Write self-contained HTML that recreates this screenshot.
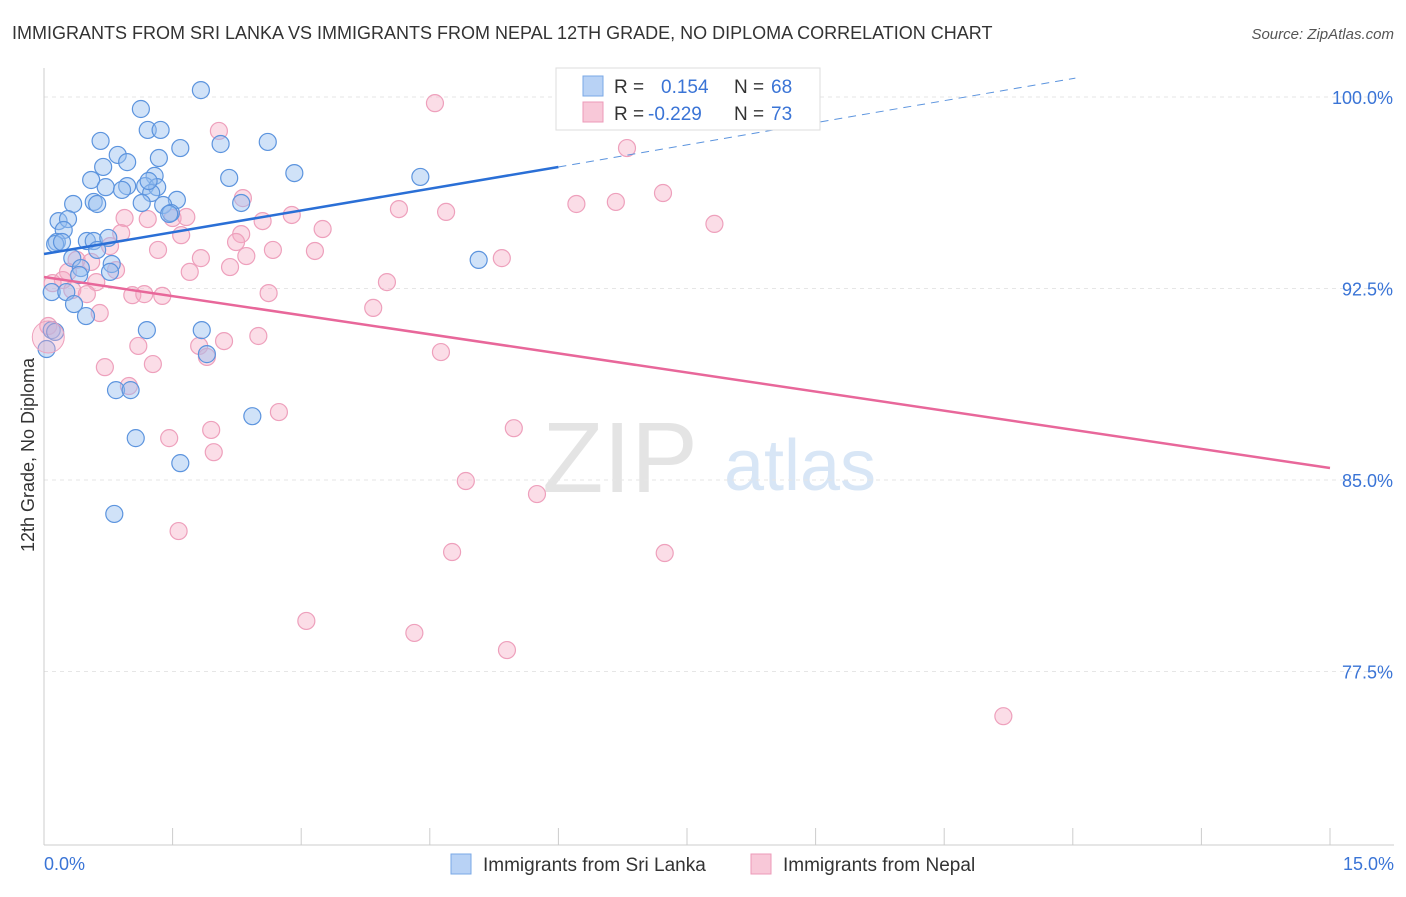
<!DOCTYPE html>
<html><head><meta charset="utf-8"><style>
body{margin:0;background:#fff;font-family:"Liberation Sans",sans-serif;}
svg text{font-family:"Liberation Sans",sans-serif;}
</style></head><body>
<svg id="c" width="1406" height="892">
<text x="12" y="39" font-size="18" fill="#333">IMMIGRANTS FROM SRI LANKA VS IMMIGRANTS FROM NEPAL 12TH GRADE, NO DIPLOMA CORRELATION CHART</text>
<text x="1394" y="39" font-size="15" fill="#555" font-style="italic" text-anchor="end">Source: ZipAtlas.com</text>
<text x="620" y="492" font-size="100" fill="#e4e4e4" font-family="Liberation Serif" text-anchor="middle">ZIP</text>
<text x="800" y="490" font-size="72" fill="#d8e6f6" text-anchor="middle">atlas</text>
<g id="grid"></g><g id="axes"></g><g id="pts"></g><g id="trend"></g>
<g>
<rect x="556" y="68" width="264" height="62" fill="#fff" stroke="#ddd"/>
<rect x="583" y="76" width="20" height="20" fill="#b8d2f5" stroke="#7aa8e6"/>
<text x="614" y="93" font-size="19" fill="#333">R = </text><text x="661" y="93" font-size="19" fill="#3a74d6">0.154</text>
<text x="734" y="93" font-size="19" fill="#333">N = </text><text x="771" y="93" font-size="19" fill="#3a74d6">68</text>
<rect x="583" y="102" width="20" height="20" fill="#f8c8d8" stroke="#ec9ab8"/>
<text x="614" y="120" font-size="19" fill="#333">R = </text><text x="648" y="120" font-size="19" fill="#3a74d6">-0.229</text>
<text x="734" y="120" font-size="19" fill="#333">N = </text><text x="771" y="120" font-size="19" fill="#3a74d6">73</text>
</g>
<g>
<rect x="451" y="854" width="20" height="20" fill="#b8d2f5" stroke="#7aa8e6"/>
<text x="483" y="871" font-size="19" fill="#333">Immigrants from Sri Lanka</text>
<rect x="751" y="854" width="20" height="20" fill="#f8c8d8" stroke="#ec9ab8"/>
<text x="783" y="871" font-size="19" fill="#333">Immigrants from Nepal</text>
</g>
<text transform="translate(34,455) rotate(-90)" font-size="18" fill="#333" text-anchor="middle">12th Grade, No Diploma</text>
<text x="44" y="870" font-size="18" fill="#3a74d6">0.0%</text>
<text x="1394" y="870" font-size="18" fill="#3a74d6" text-anchor="end">15.0%</text>
</svg>
<script>
const blueX=[1.83,1.13,1.21,1.36,0.66,2.61,2.06,1.59,0.86,1.34,0.69,0.97,2.92,4.39,0.55,1.29,2.16,0.97,0.72,0.91,1.18,1.32,1.25,1.55,0.58,0.62,0.34,1.14,2.30,1.39,1.48,0.17,0.28,0.23,0.15,0.13,0.21,0.50,0.58,0.75,0.62,0.33,0.79,0.43,0.77,0.41,0.09,0.26,0.35,0.49,5.07,1.20,1.84,0.09,0.13,0.03,1.90,0.84,1.01,2.43,1.07,1.59,0.82,1.46,1.22];
const blueY=[100.27,99.53,98.71,98.71,98.28,98.24,98.16,98.00,97.73,97.61,97.26,97.45,97.02,96.87,96.75,96.91,96.83,96.51,96.47,96.36,96.51,96.47,96.24,95.97,95.89,95.81,95.81,95.85,95.85,95.77,95.46,95.14,95.22,94.79,94.32,94.24,94.32,94.36,94.36,94.48,94.01,93.69,93.46,93.30,93.15,93.03,92.36,92.36,91.89,91.42,93.62,90.87,90.87,90.87,90.80,90.13,89.93,88.52,88.52,87.50,86.64,85.66,83.67,95.42,96.71];
const pinkX=[4.56,2.04,6.80,7.22,2.32,6.21,6.67,4.14,4.69,7.82,0.94,1.50,1.66,2.55,2.89,1.21,3.25,2.30,0.90,1.60,2.24,0.77,2.67,3.16,1.33,1.83,2.36,5.34,0.38,0.55,0.84,0.28,2.17,1.70,0.22,4.00,0.61,0.10,0.33,0.50,1.03,1.17,1.38,2.62,3.84,0.65,0.05,2.50,2.10,1.10,1.81,1.90,4.63,1.27,0.71,0.99,2.74,1.95,5.48,1.46,1.98,4.92,5.75,1.57,4.76,7.24,3.06,4.32,5.40,11.19];
const pinkY=[99.76,98.67,98.00,96.24,96.04,95.81,95.89,95.61,95.50,95.03,95.26,95.26,95.30,95.14,95.38,95.22,94.83,94.63,94.67,94.59,94.32,94.16,94.01,93.97,94.01,93.69,93.77,93.69,93.62,93.54,93.22,93.15,93.34,93.15,92.83,92.75,92.75,92.71,92.44,92.28,92.24,92.28,92.21,92.32,91.74,91.54,91.03,90.64,90.44,90.25,90.25,89.82,90.01,89.54,89.42,88.68,87.66,86.96,87.03,86.64,86.09,84.96,84.45,83.00,82.18,82.14,79.48,79.01,78.34,75.75];
const yTicks=[100,92.5,85,77.5];
const yTickLabels=["100.0%","92.5%","85.0%","77.5%"];
const xTicks=[0,1.5,3,4.5,6,7.5,9,10.5,12,13.5,15];
const blueTrend=[[0,93.85],[6.0,97.26]];
const blueTrendExt=[[6.0,97.26],[12.03,100.74]];
const pinkTrend=[[0,92.95],[15,85.47]];
const X=v=>44+v*(1286/15);
const Y=v=>97+(100-v)*(191.5/7.5);
const NS="http://www.w3.org/2000/svg";
function mk(tag,attrs,parent){const e=document.createElementNS(NS,tag);for(const k in attrs)e.setAttribute(k,attrs[k]);document.getElementById(parent).appendChild(e);return e;}
yTicks.forEach((t,i)=>{
 const l=mk('line',{x1:44,x2:1394,y1:Y(t),y2:Y(t),stroke:'#e6e6e6','stroke-dasharray':'4,4'},'grid');
 
 
 const tx=mk('text',{x:1393,y:Y(t)+7,'font-size':18,fill:'#3a74d6','text-anchor':'end'},'grid');
 tx.textContent=yTickLabels[i];
 
 
});
const ax=mk('line',{x1:44,x2:44,y1:68,y2:845,stroke:'#ccc'},'axes');


const bx=mk('line',{x1:44,x2:1394,y1:845,y2:845,stroke:'#ccc'},'axes');


xTicks.forEach(t=>{
 const l=mk('line',{x1:X(t),x2:X(t),y1:828,y2:845,stroke:'#ccc'},'axes');
 
 
});
pinkX.forEach((v,i)=>{
 const c=mk('circle',{cx:X(v),cy:Y(pinkY[i]),r:8.5,fill:'rgba(245,170,196,0.4)',stroke:'#eea0bc','stroke-width':1.2},'pts');
 
 
});
blueX.forEach((v,i)=>{
 const c=mk('circle',{cx:X(v),cy:Y(blueY[i]),r:8.5,fill:'rgba(150,190,240,0.45)',stroke:'#5c94de','stroke-width':1.2},'pts');
 
 
});
const big=mk('circle',{cx:X(0.05),cy:Y(90.6),r:16,fill:'rgba(245,170,196,0.35)',stroke:'#eea0bc'},'pts');


const t1=mk('line',{x1:X(blueTrend[0][0]),y1:Y(blueTrend[0][1]),x2:X(blueTrend[1][0]),y2:Y(blueTrend[1][1]),stroke:'#2a6fd6','stroke-width':2.5},'trend');


const t2=mk('line',{x1:X(blueTrendExt[0][0]),y1:Y(blueTrendExt[0][1]),x2:X(blueTrendExt[1][0]),y2:Y(blueTrendExt[1][1]),stroke:'#5c94de','stroke-width':1,'stroke-dasharray':'8,6'},'trend');


const t3=mk('line',{x1:X(pinkTrend[0][0]),y1:Y(pinkTrend[0][1]),x2:X(pinkTrend[1][0]),y2:Y(pinkTrend[1][1]),stroke:'#e8679a','stroke-width':2.5},'trend');


</script>
</body></html>
